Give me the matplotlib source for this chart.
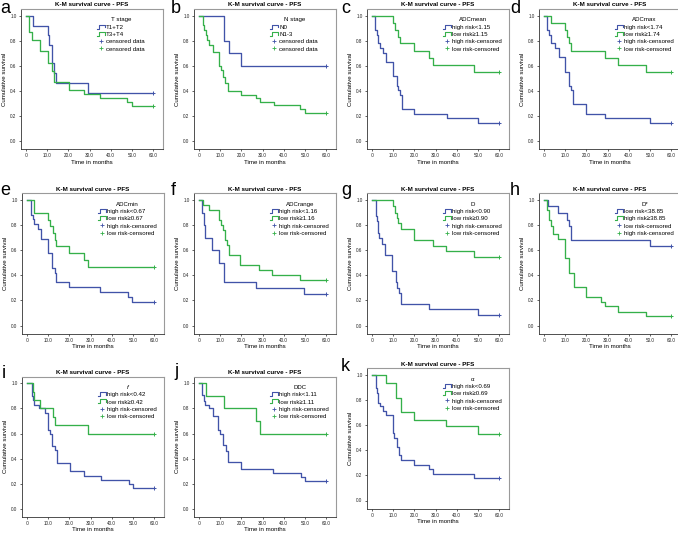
import matplotlib
matplotlib.use("Agg")
import matplotlib.pyplot as plt
from matplotlib.lines import Line2D
from matplotlib.legend_handler import HandlerBase

plt.rcParams['font.family'] = ['Liberation Sans', 'DejaVu Sans']

# ==================== Data ====================
# each series: event times (months) and survival after each event; last point = censored at 60
A_BLUE_T = [0, 3.5, 10.3, 11.0, 12.2, 13.0, 14.2, 29.2, 60]
A_BLUE_S = [1.0, 0.92, 0.85, 0.77, 0.62, 0.54, 0.46, 0.385, 0.385]
A_GREEN_T = [0, 1.6, 3.0, 6.6, 10.3, 12.2, 13.3, 20.4, 27.2, 35.0, 47.7, 50.0, 60]
A_GREEN_S = [1.0, 0.87, 0.81, 0.72, 0.62, 0.56, 0.47, 0.41, 0.375, 0.345, 0.31, 0.28, 0.28]

B_BLUE_T = [0, 12.0, 14.0, 19.7, 60]
B_BLUE_S = [1.0, 0.80, 0.70, 0.60, 0.60]
B_GREEN_T = [0, 1.9, 2.5, 3.2, 3.8, 4.8, 6.7, 9.6, 10.3, 11.5, 12.3, 13.5, 19.7, 27.0, 29.0, 35.5, 47.8, 50.0, 60]
B_GREEN_S = [1.0, 0.925, 0.885, 0.85, 0.81, 0.77, 0.71, 0.60, 0.57, 0.51, 0.46, 0.40, 0.37, 0.345, 0.315, 0.285, 0.26, 0.225, 0.225]

C_BLUE_T = [0, 1.6, 2.4, 2.9, 3.7, 5.2, 6.8, 9.8, 11.6, 12.2, 13.2, 14.0, 19.8, 35.2, 50.0, 60]
C_BLUE_S = [1.0, 0.89, 0.85, 0.78, 0.74, 0.70, 0.63, 0.52, 0.44, 0.41, 0.37, 0.26, 0.22, 0.185, 0.148, 0.148]
C_GREEN_T = [0, 10.0, 11.1, 12.2, 13.0, 19.8, 27.0, 28.6, 48.0, 60]
C_GREEN_S = [1.0, 0.94, 0.89, 0.83, 0.78, 0.72, 0.665, 0.61, 0.555, 0.555]

D_BLUE_T = [0, 1.6, 2.4, 3.2, 5.2, 7.1, 10.0, 11.6, 12.9, 13.7, 19.8, 29.0, 50.0, 60]
D_BLUE_S = [1.0, 0.89, 0.85, 0.78, 0.74, 0.67, 0.555, 0.44, 0.41, 0.30, 0.22, 0.185, 0.148, 0.148]
D_GREEN_T = [0, 3.2, 10.0, 10.8, 11.9, 12.7, 29.0, 35.0, 48.0, 60]
D_GREEN_S = [1.0, 0.945, 0.89, 0.83, 0.78, 0.72, 0.665, 0.61, 0.555, 0.555]

E_BLUE_T = [0, 2.1, 2.8, 3.4, 5.0, 6.6, 10.0, 11.8, 13.0, 13.9, 20.0, 34.7, 47.9, 49.8, 60]
E_BLUE_S = [1.0, 0.88, 0.85, 0.81, 0.77, 0.69, 0.58, 0.46, 0.42, 0.345, 0.31, 0.27, 0.23, 0.19, 0.19]
E_GREEN_T = [0, 3.2, 10.0, 11.0, 12.2, 13.0, 13.9, 19.7, 26.8, 28.8, 60]
E_GREEN_S = [1.0, 0.895, 0.84, 0.79, 0.74, 0.685, 0.63, 0.58, 0.525, 0.47, 0.47]

F_BLUE_T = [0, 1.4, 2.2, 3.0, 6.3, 9.5, 11.7, 26.7, 49.7, 60]
F_BLUE_S = [1.0, 0.90, 0.80, 0.70, 0.60, 0.50, 0.35, 0.30, 0.25, 0.25]
F_GREEN_T = [0, 1.9, 4.7, 9.3, 10.3, 11.4, 12.5, 13.3, 14.1, 19.3, 28.5, 34.3, 47.8, 60]
F_GREEN_S = [1.0, 0.96, 0.92, 0.84, 0.80, 0.76, 0.68, 0.64, 0.56, 0.48, 0.44, 0.40, 0.36, 0.36]

G_BLUE_T = [0, 1.9, 2.4, 2.9, 3.5, 4.8, 6.3, 9.5, 11.4, 11.9, 12.6, 13.5, 27.0, 50.0, 60]
G_BLUE_S = [1.0, 0.87, 0.83, 0.74, 0.70, 0.65, 0.565, 0.435, 0.35, 0.30, 0.26, 0.17, 0.13, 0.085, 0.085]
G_GREEN_T = [0, 10.0, 10.8, 11.6, 12.2, 13.5, 19.8, 28.6, 34.9, 48.0, 60]
G_GREEN_S = [1.0, 0.95, 0.90, 0.86, 0.82, 0.77, 0.68, 0.635, 0.59, 0.545, 0.545]

H_BLUE_T = [0, 2.0, 6.8, 10.8, 11.9, 12.9, 50.0, 60]
H_BLUE_S = [1.0, 0.95, 0.895, 0.84, 0.79, 0.68, 0.63, 0.63]
H_GREEN_T = [0, 1.6, 2.4, 3.2, 4.1, 6.8, 10.0, 11.6, 14.0, 19.8, 27.1, 29.0, 35.0, 48.0, 60]
H_GREEN_S = [1.0, 0.92, 0.84, 0.79, 0.73, 0.69, 0.535, 0.42, 0.305, 0.23, 0.19, 0.155, 0.11, 0.075, 0.075]

I_BLUE_T = [0, 2.4, 2.9, 3.2, 5.6, 8.7, 10.0, 10.8, 11.9, 13.0, 14.0, 20.2, 27.0, 34.9, 48.0, 50.0, 60]
I_BLUE_S = [1.0, 0.90, 0.87, 0.83, 0.80, 0.76, 0.63, 0.60, 0.50, 0.47, 0.365, 0.30, 0.265, 0.23, 0.20, 0.165, 0.165]
I_GREEN_T = [0, 3.0, 3.5, 6.3, 12.4, 13.0, 28.9, 60]
I_GREEN_S = [1.0, 0.93, 0.87, 0.80, 0.73, 0.665, 0.60, 0.60]

J_BLUE_T = [0, 1.6, 2.4, 3.0, 4.8, 6.4, 9.1, 9.9, 11.5, 12.6, 13.5, 19.7, 35.0, 48.0, 50.0, 60]
J_BLUE_S = [1.0, 0.91, 0.86, 0.83, 0.80, 0.74, 0.63, 0.60, 0.51, 0.46, 0.37, 0.315, 0.285, 0.257, 0.225, 0.225]
J_GREEN_T = [0, 3.2, 12.0, 27.0, 29.0, 60]
J_GREEN_S = [1.0, 0.90, 0.80, 0.70, 0.60, 0.60]

K_BLUE_T = [0, 1.9, 2.4, 2.9, 3.7, 5.2, 6.8, 9.8, 10.6, 11.9, 12.7, 13.5, 19.8, 27.0, 28.6, 48.0, 60]
K_BLUE_S = [1.0, 0.90, 0.86, 0.78, 0.75, 0.715, 0.68, 0.535, 0.50, 0.43, 0.36, 0.32, 0.285, 0.25, 0.215, 0.18, 0.18]
K_GREEN_T = [0, 6.8, 11.4, 13.8, 19.8, 35.0, 50.0, 60]
K_GREEN_S = [1.0, 0.94, 0.82, 0.705, 0.645, 0.59, 0.53, 0.53]

LETTERS = ['a', 'b', 'c', 'd', 'e', 'f', 'g', 'h', 'i', 'j', 'k']
LEGEND_TITLES = ['T stage', 'N stage', 'ADCmean', 'ADCmax', 'ADCmin', 'ADCrange', 'D', 'D*', 'f', 'DDC', 'α']
BLUE_LABELS = ['T1+T2', 'N0', 'high risk<1.15', 'high risk<1.74', 'high risk<0.67', 'high risk<1.16',
               'high risk<0.90', 'low risk<38.85', 'high risk<0.42', 'high risk<1.11', 'high risk<0.69']
GREEN_LABELS = ['T3+T4', 'N1-3', 'low risk≥1.15', 'low risk≥1.74', 'low risk≥0.67', 'low risk≥1.16',
                'low risk≥0.90', 'high risk≥38.85', 'low risk≥0.42', 'low risk≥1.11', 'low risk≥0.69']
BLUE_CENS = ['censored data', 'censored data'] + ['high risk-censored'] * 5 + ['low risk-censored'] + ['high risk-censored'] * 3
GREEN_CENS = ['censored data', 'censored data'] + ['low risk-censored'] * 5 + ['high risk-censored'] + ['low risk-censored'] * 3
X_TICKS = [0, 10, 20, 30, 40, 50, 60]
X_TICK_LABELS = ['.0', '10.0', '20.0', '30.0', '40.0', '50.0', '60.0']
Y_TICKS = [0.0, 0.2, 0.4, 0.6, 0.8, 1.0]
Y_TICK_LABELS = ['0.0', '0.2', '0.4', '0.6', '0.8', '1.0']

SERIES = [
    (A_BLUE_T, A_BLUE_S, A_GREEN_T, A_GREEN_S),
    (B_BLUE_T, B_BLUE_S, B_GREEN_T, B_GREEN_S),
    (C_BLUE_T, C_BLUE_S, C_GREEN_T, C_GREEN_S),
    (D_BLUE_T, D_BLUE_S, D_GREEN_T, D_GREEN_S),
    (E_BLUE_T, E_BLUE_S, E_GREEN_T, E_GREEN_S),
    (F_BLUE_T, F_BLUE_S, F_GREEN_T, F_GREEN_S),
    (G_BLUE_T, G_BLUE_S, G_GREEN_T, G_GREEN_S),
    (H_BLUE_T, H_BLUE_S, H_GREEN_T, H_GREEN_S),
    (I_BLUE_T, I_BLUE_S, I_GREEN_T, I_GREEN_S),
    (J_BLUE_T, J_BLUE_S, J_GREEN_T, J_GREEN_S),
    (K_BLUE_T, K_BLUE_S, K_GREEN_T, K_GREEN_S),
]

# ==================== Layout (pixels in a 678x534 figure) ====================
FIG_W, FIG_H = 678, 534
# pixel x of t=0 and pixel y of S=1.0 for each panel
X0 = [26, 199, 372, 544, 27, 199, 372, 544, 27, 199, 372]
Y1 = [15.7, 15.7, 15.7, 15.7, 200, 200, 200, 200, 383.3, 383.3, 375]
LETTER_XY = [(0, 0), (171, 0), (341, 0), (510, 0), (0, 182), (171, 182), (341, 182), (510, 182),
             (2, 365), (174, 363), (341, 358)]
PX_PER_MONTH = 127 / 60
PX_PER_UNIT = 125.5
XMIN, XMAX = -2.5, 64.6
YMIN, YMAX = -0.064, 1.053

BLUE = '#4153a8'
GREEN = '#35b04a'
FRAME_GRAY = '#9a9a9a'


class StepHandler(HandlerBase):
    """draws the little step icon SPSS uses in KM legends"""
    def create_artists(self, legend, orig_handle, xdescent, ydescent, width, height, fontsize, trans):
        x0, y0 = -xdescent, -ydescent
        xs = [x0, x0 + 0.25 * width, x0 + 0.25 * width, x0 + width, x0 + width]
        ys = [y0 + 0.1 * height, y0 + 0.1 * height, y0 + 0.95 * height, y0 + 0.95 * height, y0 + 0.35 * height]
        line = Line2D(xs, ys, color=orig_handle.get_color(), lw=0.8, transform=trans)
        return [line]


class StepProxy:
    def __init__(self, color):
        self.color = color

    def get_color(self):
        return self.color


fig = plt.figure(figsize=(FIG_W / 100, FIG_H / 100), dpi=100)

for idx in range(len(SERIES)):
    bt, bs, gt, gs = SERIES[idx]
    left = X0[idx] + XMIN * PX_PER_MONTH
    right = X0[idx] + XMAX * PX_PER_MONTH
    top = Y1[idx] - (YMAX - 1.0) * PX_PER_UNIT
    bottom = Y1[idx] + (1.0 - YMIN) * PX_PER_UNIT
    ax = fig.add_axes([left / FIG_W, 1 - bottom / FIG_H, (right - left) / FIG_W, (bottom - top) / FIG_H])

    ax.step(bt, bs, where='post', color=BLUE, lw=0.95)
    ax.step(gt, gs, where='post', color=GREEN, lw=0.95)
    ax.plot([bt[-1]], [bs[-1]], marker='+', color=BLUE, ms=3, mew=0.7)
    ax.plot([gt[-1]], [gs[-1]], marker='+', color=GREEN, ms=3, mew=0.7)

    ax.set_xlim(XMIN, XMAX)
    ax.set_ylim(YMIN, YMAX)
    ax.set_xticks(X_TICKS)
    ax.set_xticklabels(X_TICK_LABELS)
    ax.set_yticks(Y_TICKS)
    ax.set_yticklabels(Y_TICK_LABELS)
    ax.tick_params(labelsize=3.3, length=1.5, width=0.5, pad=1.5, colors='#222222')

    for s in ['top', 'right']:
        ax.spines[s].set_color(FRAME_GRAY)
        ax.spines[s].set_linewidth(0.8)
    for s in ['left', 'bottom']:
        ax.spines[s].set_color('#333333')
        ax.spines[s].set_linewidth(0.6)

    ax.set_title('K-M survival curve - PFS', fontsize=4.5, fontweight='bold', pad=2)
    ax.set_xlabel('Time in months', fontsize=4.4)
    ax.set_ylabel('Cumulative survival', fontsize=4.4)
    ax.xaxis.set_label_coords(0.5, -0.075)
    ax.yaxis.set_label_coords(-0.095, 0.5)

    title_style = 'italic' if LEGEND_TITLES[idx] == 'f' else 'normal'
    handles = [StepProxy(BLUE), StepProxy(GREEN),
               Line2D([], [], marker='+', ls='none', color=BLUE, ms=3.5, mew=0.6),
               Line2D([], [], marker='+', ls='none', color=GREEN, ms=3.5, mew=0.6)]
    labels = [BLUE_LABELS[idx], GREEN_LABELS[idx], BLUE_CENS[idx], GREEN_CENS[idx]]
    leg = ax.legend(handles, labels, handler_map={StepProxy: StepHandler()},
                    loc='upper left', bbox_to_anchor=(0.54, 0.94), frameon=False,
                    fontsize=4.4, title=LEGEND_TITLES[idx], title_fontsize=4.4,
                    handlelength=1.2, handleheight=0.8, handletextpad=0.25,
                    labelspacing=0.3, borderpad=0, borderaxespad=0)
    leg.get_title().set_fontstyle(title_style)

    lx, ly = LETTER_XY[idx]
    fig.text(lx / FIG_W, 1 - ly / FIG_H, LETTERS[idx], fontsize=13, va='top', ha='left')

fig.savefig('out.png', dpi=100)
